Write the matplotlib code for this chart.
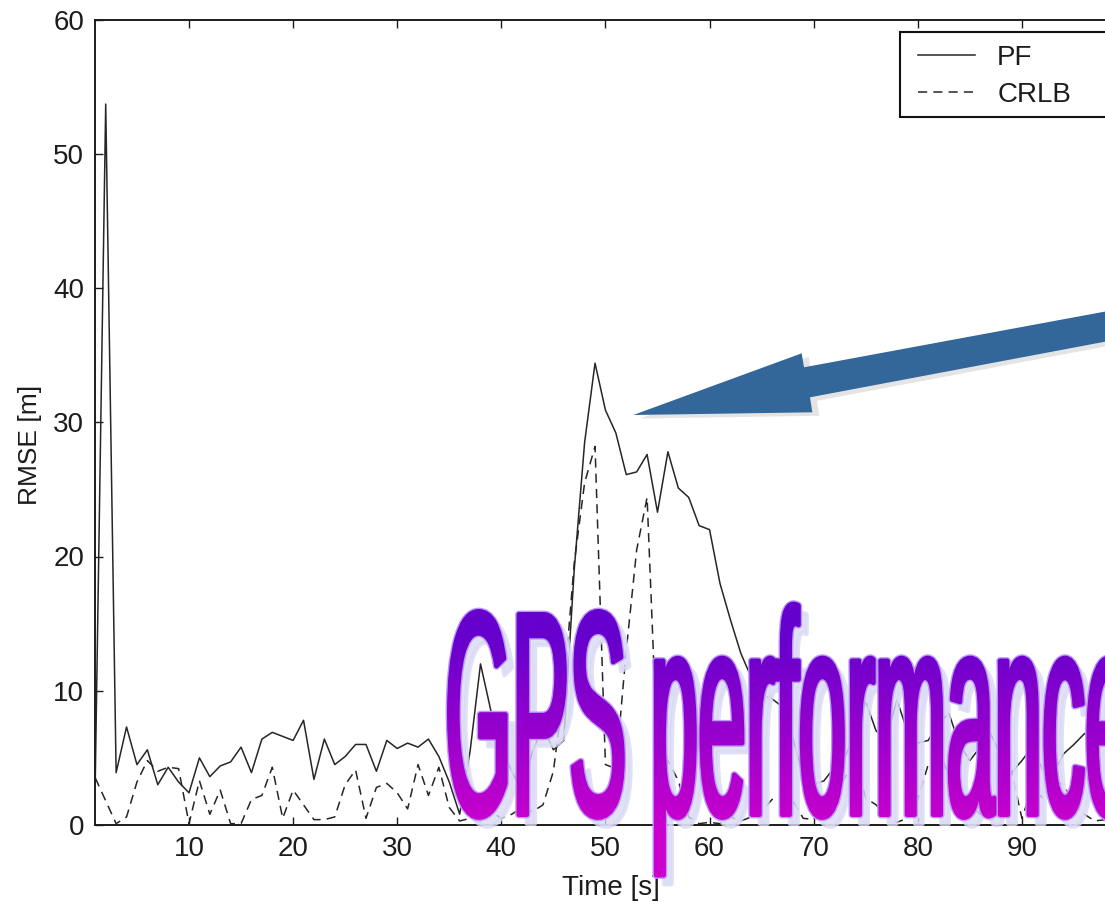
import numpy as np
import matplotlib
matplotlib.use("Agg")
import matplotlib.pyplot as plt
import matplotlib.transforms as mtransforms
from matplotlib.textpath import TextPath
from matplotlib.font_manager import FontProperties
from matplotlib.patches import PathPatch, Polygon, Rectangle

W, H, DPI = 1105, 907, 100

# ---- data -------------------------------------------------------------
time_s = list(range(1, 101))

pf_rmse = [
    3.5, 53.7, 3.9, 7.3, 4.5, 5.6, 3.0, 4.3, 3.2, 2.4,
    5.0, 3.6, 4.4, 4.7, 5.8, 3.9, 6.4, 6.9, 6.6, 6.3,
    7.8, 3.4, 6.4, 4.5, 5.1, 6.0, 6.0, 4.0, 6.3, 5.7,
    6.1, 5.8, 6.4, 5.1, 3.2, 0.8, 5.5, 12.0, 8.5, 5.8,
    4.0, 2.5, 5.5, 7.3, 5.6, 6.3, 19.0, 28.5, 34.4, 30.9,
    29.2, 26.1, 26.3, 27.6, 23.3, 27.8, 25.1, 24.4, 22.3, 22.0,
    18.0, 15.3, 12.8, 11.0, 9.7, 9.4, 8.8, 6.5, 3.6, 3.0,
    3.3, 4.3, 5.0, 7.0, 9.2, 7.0, 6.5, 9.3, 7.0, 6.1,
    6.3, 7.6, 8.3, 6.0, 4.8, 5.8, 6.8, 5.1, 3.9, 4.8,
    5.8, 4.1, 3.8, 5.3, 6.0, 6.8, 7.0, 7.3, 7.0, 6.6,
]

crlb_rmse = [
    3.5, 1.8, 0.1, 0.6, 3.2, 4.8, 4.0, 4.3, 4.2, 0.1,
    3.3, 0.8, 2.6, 0.1, 0.1, 1.9, 2.2, 4.3, 0.5, 2.6,
    1.5, 0.4, 0.4, 0.6, 3.0, 4.1, 0.5, 2.8, 3.1, 2.4,
    1.2, 4.5, 2.2, 4.3, 1.3, 0.3, 0.5, 0.2, 1.0, 0.5,
    0.8, 1.3, 1.0, 1.5, 4.0, 10.0, 19.5, 25.5, 28.2, 4.5,
    4.2, 13.0, 20.5, 24.4, 5.2, 4.8, 3.3, 0.6, 0.1, 0.2,
    0.1, 0.6, 0.3, 0.6, 1.0, 1.9, 2.0, 1.8, 0.5, 0.4,
    1.5, 2.5, 3.5, 5.0, 2.0, 1.5, 0.6, 0.2, 0.5, 1.9,
    4.5, 5.8, 3.5, 2.8, 1.5, 0.8, 0.6, 2.5, 4.0, 0.5,
    2.8, 2.0, 3.3, 3.0, 1.5, 0.8, 0.3, 0.4, 0.8, 1.0,
]

x_ticks = [10, 20, 30, 40, 50, 60, 70, 80, 90]
y_ticks = [0, 10, 20, 30, 40, 50, 60]
series_labels = ["PF", "CRLB"]
banner_text = "GPS performance"

# ---- style ------------------------------------------------------------
plt.rcParams["font.family"] = ["Liberation Sans", "DejaVu Sans"]
ink = "#1c1c1c"
line_col = "#262626"

fig = plt.figure(figsize=(W / DPI, H / DPI), dpi=DPI)
fig.patch.set_facecolor("white")

# transform taking pixel coordinates measured from the top-left corner
px = mtransforms.Affine2D().scale(1.0 / W, -1.0 / H).translate(0, 1) + fig.transFigure

# main axes (its right part runs past the right edge of the canvas)
ax_l, ax_r, ax_t, ax_b = 95.3, 1126.0, 19.5, 825.0
ax = fig.add_axes([ax_l / W, 1 - ax_b / H, (ax_r - ax_l) / W, (ax_b - ax_t) / H])

ax.plot(time_s, pf_rmse, color=line_col, lw=1.1, label=series_labels[0])
ax.plot(time_s, crlb_rmse, color=line_col, lw=1.1, ls=(0, (6, 4)),
        label=series_labels[1])

ax.set_xlim(1, 100)
ax.set_ylim(0, 60)
ax.set_xticks(x_ticks)
ax.set_yticks(y_ticks)
ax.tick_params(direction="in", length=6, width=1, top=True, right=True,
               labelsize=20, pad=8, colors=ink)
for sp in ax.spines.values():
    sp.set_linewidth(1.4)
    sp.set_color(ink)
ax.set_xlabel("Time [s]", fontsize=20, color=ink, labelpad=9)
ax.set_ylabel("RMSE [m]", fontsize=19, color=ink)
ax.yaxis.set_label_coords((42 - ax_l) / (ax_r - ax_l), (ax_b - 445) / (ax_b - ax_t))

# legend with a box that continues past the canvas edge
leg = ax.legend(loc="upper left", bbox_to_anchor=(918, 45), bbox_transform=px,
                frameon=False, borderpad=0, borderaxespad=0, handlelength=2.05,
                handletextpad=0.8, labelspacing=0.4, fontsize=20, labelcolor=ink)
leg.set_zorder(6)
box = Rectangle((900, 31.7), 260, 85, transform=px, facecolor="white",
                edgecolor="#111111", lw=1.5, zorder=5, clip_on=False)
ax.add_artist(box)

# ---- overlay: callout arrow and banner text ----------------------------
ov = fig.add_axes([0, 0, 1, 1], zorder=10)
ov.set_xlim(0, W)
ov.set_ylim(H, 0)
ov.axis("off")

arrow_pts = [(633.3, 415.0), (812.3, 412.3), (810.0, 397.3), (1200.0, 323.8),
             (1200.0, 294.0), (804.0, 367.3), (801.7, 353.3)]
arrow_shadow = [(x + 7, y + 3.5) for x, y in arrow_pts]
ov.add_patch(Polygon(arrow_shadow, closed=True, facecolor="#e4e4e4",
                     edgecolor="none", zorder=1))
ov.add_patch(Polygon(arrow_pts, closed=True, facecolor="#336699",
                     edgecolor="none", zorder=2))

fp = FontProperties(family="Liberation Sans", weight="normal")
tp = TextPath((0, 0), banner_text, size=1, prop=fp)
full_ext = tp.get_extents()
last_c = TextPath((0, 0), banner_text[:-1], size=1, prop=fp).get_extents().x1
cap_h = TextPath((0, 0), "P", size=1, prop=fp).get_extents().y1

stroke_px = 4.5
stroke_pt = stroke_px * 72.0 / DPI
left_px, right_px = 447.0, 1085.0
base_px, cap_px = 817.0, 612.0
sx = ((right_px - stroke_px / 2) - (left_px + stroke_px / 2)) / (last_c - full_ext.x0)
sy = (base_px - cap_px - stroke_px) / cap_h
tx = left_px + stroke_px / 2 - sx * full_ext.x0
word = mtransforms.Affine2D().scale(sx, -sy).translate(tx, base_px - stroke_px / 2).transform_path(tp)

shadow_path = mtransforms.Affine2D().translate(8, 9).transform_path(word)
ov.add_patch(PathPatch(shadow_path, facecolor="#dadaf4", edgecolor="#dadaf4",
                       lw=stroke_pt, alpha=0.8, zorder=3, joinstyle="round"))
ov.add_patch(PathPatch(word, facecolor="#bb98ff", edgecolor="#bb98ff",
                       lw=stroke_pt + 2.0, zorder=4, joinstyle="round"))

# vertical violet-to-magenta fill, drawn as thin horizontal bands
top_rgb = np.array([0.40, 0.00, 0.80])
bot_rgb = np.array([0.80, 0.00, 0.80])
for y0 in range(596, 892, 2):
    f = np.clip((y0 + 1 - 640.0) / (830.0 - 640.0), 0, 1)
    col = tuple(top_rgb + (bot_rgb - top_rgb) * f)
    band = PathPatch(word, facecolor=col, edgecolor=col, lw=stroke_pt, zorder=5,
                     joinstyle="round")
    ov.add_patch(band)
    band.set_clip_path(None)
    band.set_clip_box(mtransforms.TransformedBbox(
        mtransforms.Bbox.from_extents(0, y0, W, y0 + 2), ov.transData))

fig.savefig("out.png", dpi=DPI, facecolor="white")
